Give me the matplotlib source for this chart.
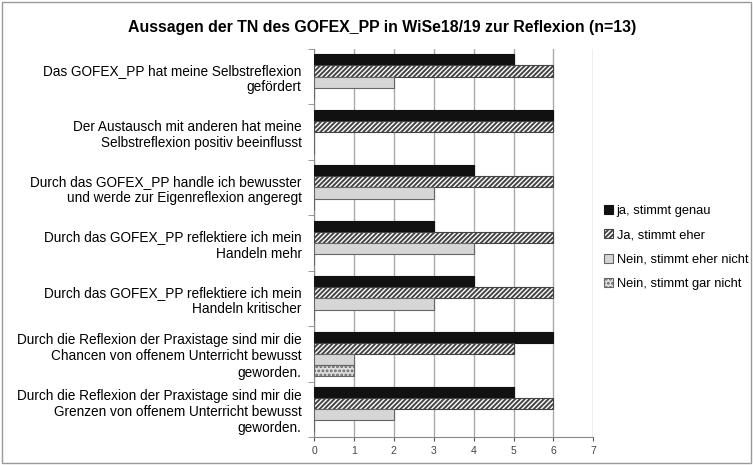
import numpy as np
import matplotlib.pyplot as plt
from matplotlib.patches import Rectangle

# Aussagen (von oben nach unten)
aussagen = [
    "Das GOFEX_PP hat meine Selbstreflexion\ngefördert",
    "Der Austausch mit anderen hat meine\nSelbstreflexion positiv beeinflusst",
    "Durch das GOFEX_PP handle ich bewusster\nund werde zur Eigenreflexion angeregt",
    "Durch das GOFEX_PP reflektiere ich mein\nHandeln mehr",
    "Durch das GOFEX_PP reflektiere ich mein\nHandeln kritischer",
    "Durch die Reflexion der Praxistage sind mir die\nChancen von offenem Unterricht bewusst\ngeworden.",
    "Durch die Reflexion der Praxistage sind mir die\nGrenzen von offenem Unterricht bewusst\ngeworden.",
]
reihen = ["ja, stimmt genau", "Ja, stimmt eher", "Nein, stimmt eher nicht", "Nein, stimmt gar nicht"]
ja_genau = [5, 6, 4, 3, 4, 6, 5]
ja_eher = [6, 6, 6, 6, 6, 5, 6]
nein_eher = [2, 0, 3, 4, 3, 1, 2]
nein_gar = [0, 0, 0, 0, 0, 1, 0]
xticks = [0, 1, 2, 3, 4, 5, 6, 7]

plt.rcParams['hatch.linewidth'] = 1.4
plt.rcParams['font.family'] = ['Liberation Sans', 'DejaVu Sans']

fig = plt.figure(figsize=(7.53, 4.65), dpi=100)
ax = fig.add_axes([0.417, 0.06, 0.371, 0.835])

n = len(aussagen)
pos = np.arange(n)[::-1].astype(float)
h = 0.2
stile = [
    dict(color="#111111", edgecolor="#111111"),
    dict(color="white", edgecolor="#444444", hatch="///////"),
    dict(color="#d6d6d6", edgecolor="#666666"),
    dict(color="#e0e0e0", edgecolor="#666666", hatch="...."),
]
werte = [ja_genau, ja_eher, nein_eher, nein_gar]
for k, (vals, st) in enumerate(zip(werte, stile)):
    y = pos + 0.3 - k * h
    ax.barh(y, vals, height=h, linewidth=0.8, label=reihen[k], zorder=3, **st)

ax.set_xlim(0, 7)
ax.set_ylim(-0.5, n - 0.5)
ax.set_xticks(xticks)
ax.set_yticks(pos)
ax.set_yticklabels(aussagen, fontsize=9.8, linespacing=1.2)
ax.set_yticks(np.arange(-0.5, n, 1.0), minor=True)
ax.tick_params(axis='y', which='major', length=0, pad=9)
ax.tick_params(axis='y', which='minor', length=4, color="#888888")
ax.tick_params(axis='x', labelsize=7.5, colors="#555555", length=3)
for lbl in ax.get_xticklabels():
    lbl.set_color("#444444")
ax.grid(axis='x', color="#aaaaaa", linewidth=1, zorder=0)
for s in ["top", "right"]:
    ax.spines[s].set_visible(False)
ax.spines["left"].set_color("#888888")
ax.spines["bottom"].set_color("#888888")

fig.text(0.508, 0.94, "Aussagen der TN des GOFEX_PP in WiSe18/19 zur Reflexion (n=13)",
         fontsize=11.4, fontweight="bold", ha="center", va="center")

leg = fig.legend(loc="upper left", bbox_to_anchor=(0.795, 0.57), frameon=False,
                 fontsize=9.3, handlelength=0.7, handleheight=0.7, handletextpad=0.3,
                 labelspacing=0.95, borderaxespad=0)

fig.patches.append(Rectangle((0.003, 0.005), 0.994, 0.99, transform=fig.transFigure,
                             fill=False, edgecolor="#999999", linewidth=1))

fig.savefig("out.png", dpi=100)
